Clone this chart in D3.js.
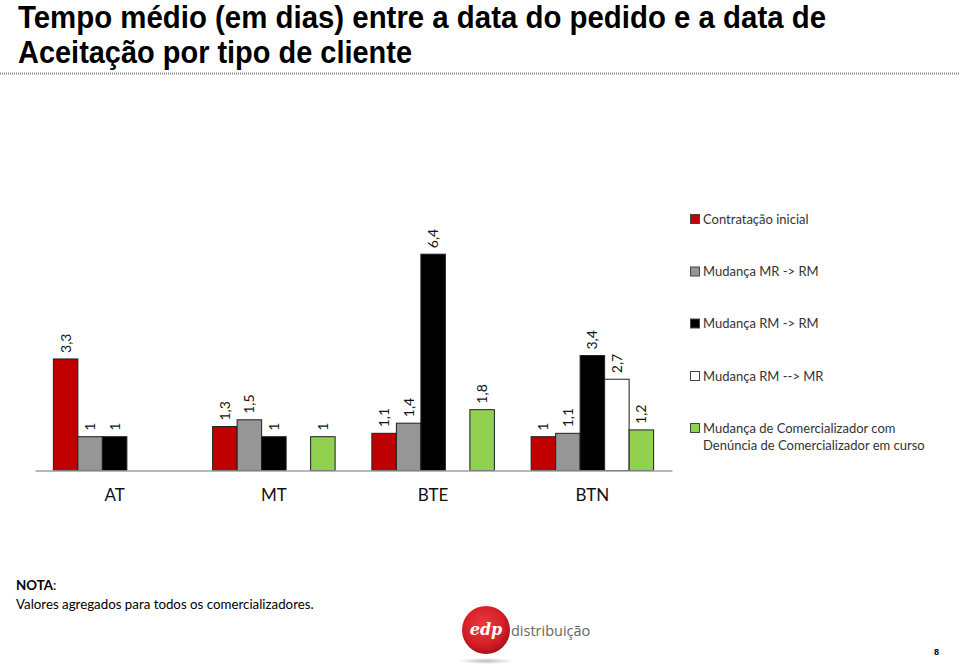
<!DOCTYPE html>
<html>
<head>
<meta charset="utf-8">
<script src="https://cdn.jsdelivr.net/npm/d3@7"></script>
<style>
  html, body { margin: 0; padding: 0; background: #fff; }
  svg { display: block; }
</style>
</head>
<body>
<svg id="chart" width="960" height="667"></svg>
<script>
// ---- data ----
const categories = ["AT", "MT", "BTE", "BTN"];
const seriesNames = [
  "Contratação inicial",
  "Mudança MR -> RM",
  "Mudança RM -> RM",
  "Mudança RM --> MR",
  "Mudança de Comercializador com Denúncia de Comercializador em curso"
];
const legendLines = [
  ["Contratação inicial"],
  ["Mudança MR -> RM"],
  ["Mudança RM -> RM"],
  ["Mudança RM --> MR"],
  ["Mudança de Comercializador com", "Denúncia de Comercializador em curso"]
];
const contratacaoInicial = [3.3, 1.3, 1.1, 1.0];
const mudancaMRRM = [1.0, 1.5, 1.4, 1.1];
const mudancaRMRM = [1.0, 1.0, 6.4, 3.4];
const mudancaRMMR = [null, null, null, 2.7];
const mudancaComDenuncia = [null, 1.0, 1.8, 1.2];
const seriesColors = ["#C00000", "#969696", "#000000", "#FFFFFF", "#92D050"];
const titleLines = ["Tempo médio (em dias) entre a data do pedido e a data de", "Aceitação por tipo de cliente"];

const seriesValues = [contratacaoInicial, mudancaMRRM, mudancaRMRM, mudancaRMMR, mudancaComDenuncia];

const svg = d3.select("#chart");
const fontMain = "Lato, 'Open Sans', 'Liberation Sans', sans-serif";

// ---- title ----
const title = svg.append("g");
title.append("text").attr("x", 18).attr("y", 28)
  .attr("font-family", "'Liberation Sans Narrow', 'Liberation Sans', Arial, sans-serif")
  .attr("font-weight", "bold").attr("font-size", 31).attr("fill", "#000")
  .attr("textLength", 808).attr("lengthAdjust", "spacingAndGlyphs")
  .text(titleLines[0]);
title.append("text").attr("x", 18).attr("y", 63)
  .attr("font-family", "'Liberation Sans Narrow', 'Liberation Sans', Arial, sans-serif")
  .attr("font-weight", "bold").attr("font-size", 31).attr("fill", "#000")
  .attr("textLength", 394).attr("lengthAdjust", "spacingAndGlyphs")
  .text(titleLines[1]);
svg.append("line").attr("x1", 0).attr("x2", 960).attr("y1", 73.5).attr("y2", 73.5)
  .attr("stroke", "#8a8a8a").attr("stroke-width", 2).attr("stroke-dasharray", "1,1");

// ---- scales ----
const x0 = d3.scaleBand().domain(categories).range([35, 672]).padding(0);
const x1 = d3.scaleBand().domain(d3.range(seriesNames.length))
  .range([0, x0.bandwidth()]).paddingInner(0).paddingOuter(0.75);
const y = d3.scaleLinear().domain([0, 7]).range([470.5, 470.5 - 7 * 33.8]);

// ---- bars ----
const bars = [];
categories.forEach((c, ci) => {
  seriesValues.forEach((vals, si) => {
    if (vals[ci] != null) bars.push({ c, si, v: vals[ci] });
  });
});

const g = svg.append("g");
g.selectAll("rect.bar").data(bars).join("rect")
  .attr("class", "bar")
  .attr("x", d => x0(d.c) + x1(d.si))
  .attr("y", d => y(d.v))
  .attr("width", x1.bandwidth())
  .attr("height", d => y(0) - y(d.v))
  .attr("fill", d => seriesColors[d.si])
  .attr("stroke", "#1e1e1e").attr("stroke-width", 1);

// value labels
g.selectAll("text.val").data(bars).join("text")
  .attr("class", "val")
  .attr("transform", d => `translate(${x0(d.c) + x1(d.si) + x1.bandwidth() / 2 + 5},${y(d.v) - 6}) rotate(-90)`)
  .attr("font-family", fontMain).attr("font-size", 14).attr("fill", "#111")
  .text(d => String(d.v).replace(".", ","));

// axis
const xAxis = d3.axisBottom(x0).tickSize(0).tickPadding(18);
const ax = svg.append("g").attr("transform", `translate(0,${y(0)})`).call(xAxis);
ax.select(".domain").attr("stroke", "#a0a0a0").attr("stroke-width", 1.5);
ax.selectAll("text").attr("font-family", fontMain).attr("font-size", 17).attr("fill", "#111");

// ---- legend ----
const legend = svg.append("g").attr("transform", "translate(690,0)");
const legendY = [219, 271.5, 323.5, 376, 428];
legendLines.forEach((lines, i) => {
  const row = legend.append("g").attr("transform", `translate(0,${legendY[i]})`);
  row.append("rect").attr("x", 0.5).attr("y", -4.5).attr("width", 9).attr("height", 9)
    .attr("fill", seriesColors[i]).attr("stroke", "#444").attr("stroke-width", 1);
  lines.forEach((t, li) => {
    row.append("text").attr("x", 13).attr("y", 4.5 + li * 17.5)
      .attr("font-family", fontMain).attr("font-size", 13).attr("fill", "#333")
      .text(t);
  });
});

// ---- note ----
svg.append("text").attr("x", 16).attr("y", 590)
  .attr("font-family", fontMain).attr("font-size", 13.3).attr("fill", "#000")
  .call(t => {
    t.append("tspan").attr("font-weight", "bold").text("NOTA");
    t.append("tspan").text(":");
  });
svg.append("text").attr("x", 16).attr("y", 609)
  .attr("font-family", fontMain).attr("font-size", 13.3).attr("fill", "#000")
  .text("Valores agregados para todos os comercializadores.");

// ---- logo ----
const defs = svg.append("defs");
const rg = defs.append("radialGradient").attr("id", "logoGrad").attr("cx", "45%").attr("cy", "40%").attr("r", "60%");
rg.append("stop").attr("offset", "0%").attr("stop-color", "#ec3a3f");
rg.append("stop").attr("offset", "70%").attr("stop-color", "#d41f28");
rg.append("stop").attr("offset", "100%").attr("stop-color", "#a8121a");
const sg = defs.append("radialGradient").attr("id", "shadowGrad");
sg.append("stop").attr("offset", "0%").attr("stop-color", "#bbb");
sg.append("stop").attr("offset", "100%").attr("stop-color", "#fff");
svg.append("ellipse").attr("cx", 486).attr("cy", 661).attr("rx", 28).attr("ry", 3).attr("fill", "url(#shadowGrad)");
svg.append("circle").attr("cx", 486).attr("cy", 630).attr("r", 24).attr("fill", "url(#logoGrad)");
svg.append("text").attr("x", 486).attr("y", 635).attr("text-anchor", "middle")
  .attr("font-family", "'DejaVu Serif', serif").attr("font-style", "italic").attr("font-weight", "bold")
  .attr("font-size", 16).attr("fill", "#fff").text("edp");
svg.append("text").attr("x", 511).attr("y", 636)
  .attr("font-family", "'Open Sans', sans-serif").attr("font-size", 14.5).attr("fill", "#666")
  .text("distribuição");

// page number
svg.append("text").attr("x", 934).attr("y", 655)
  .attr("font-family", "'Liberation Sans', Arial, sans-serif").attr("font-weight", "bold")
  .attr("font-size", 9).attr("fill", "#000").text("8");
</script>
</body>
</html>
